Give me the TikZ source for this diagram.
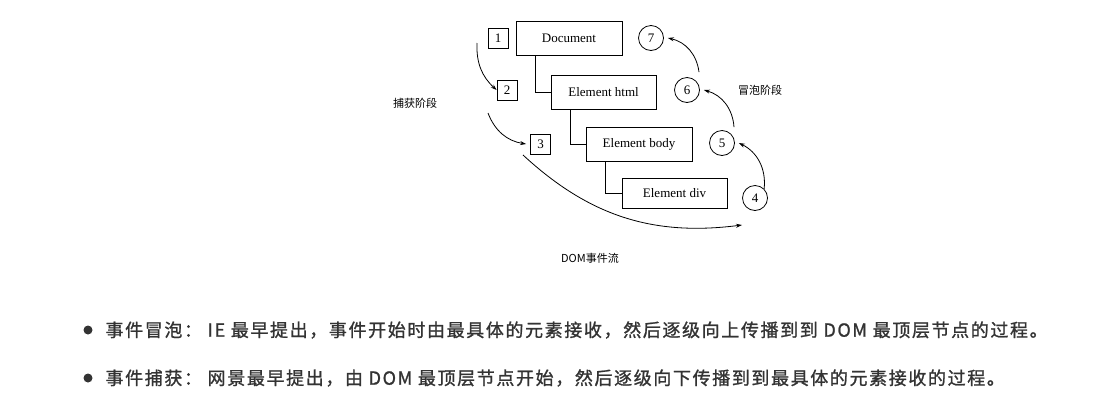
\documentclass[tikz,border=0pt]{standalone}
\usepackage{fontspec}
\setmainfont{Liberation Serif}
\newfontfamily\cjk{Noto Sans CJK SC}
\newfontfamily\cjkwide[LetterSpace=9,FakeBold=1.2]{Noto Sans CJK SC}
\usetikzlibrary{arrows.meta}
\definecolor{txtgray}{HTML}{333333}
\tikzset{
  elembox/.style={draw, thick, minimum height=34pt, font=\fontsize{13}{15}\selectfont},
  stepbox/.style={draw, thick, minimum size=20pt, inner sep=0pt, font=\fontsize{13}{15}\selectfont},
  stepcirc/.style={draw, thick, circle, minimum size=25pt, inner sep=0pt, font=\fontsize{13}{15}\selectfont},
  flow/.style={thick, -{Stealth[length=6pt,width=4pt]}},
  phase/.style={font=\cjk\fontsize{11}{13}\selectfont},
  bullet/.style={anchor=west, text=txtgray, font=\cjkwide\fontsize{18}{20}\selectfont}
}
\begin{document}
\begin{tikzpicture}[x=1pt,y=-1pt]
\useasboundingbox (0,0) rectangle (1107,416);
% element tree
\node[elembox, minimum width=106pt] (doc) at (569,38) {Document};
\node[elembox, minimum width=105pt] (html) at (603.5,92) {Element html};
\node[elembox, minimum width=106pt] (body) at (639,144) {Element body};
\node[elembox, minimum width=105pt, minimum height=30pt] (div) at (674.5,193) {Element div};
\draw[thick] (535,56) |- (html.west);
\draw[thick] (570,109) |- (body.west);
\draw[thick] (605,161) |- (div.west);
% capture steps
\node[stepbox] (s1) at (498,38) {1};
\node[stepbox] (s2) at (507,90) {2};
\node[stepbox] (s3) at (540.5,144) {3};
% bubble steps
\node[stepcirc] (c7) at (651,38) {7};
\node[stepcirc] (c6) at (687,90) {6};
\node[stepcirc] (c5) at (722,143) {5};
\node[stepcirc] (c4) at (755,198) {4};
\coordinate (cap1) at (477,43);
\coordinate (cap2) at (488,113);
\coordinate (cap3) at (523,155);
\coordinate (capend) at (742,225);
\draw[flow] (cap1) to[bend right=25] (s2.west);
\draw[flow] (cap2) to[bend right=30] ([xshift=-4pt]s3.west);
\draw[flow] (cap3) to[bend right=25] (capend);
\draw[flow] (c4.north east) to[bend right=35] ([xshift=4pt]c5.east);
\draw[flow] (c5.north) ++(12,-3) to[bend right=35] ([xshift=4pt]c6.east);
\draw[flow] (c6.north) ++(12,-5) to[bend right=35] ([xshift=4pt]c7.east);
% labels
\node[phase] (caplbl) at (415,103) {捕获阶段};
\node[phase] (bublbl) at (760,90) {冒泡阶段};
\node[phase] (title) at (590,258) {DOM事件流};
% notes
\fill[txtgray] (88,330) circle (4.5);
\node[bullet] (b1) at (102,330) {事件冒泡： IE 最早提出，事件开始时由最具体的元素接收，然后逐级向上传播到到 DOM 最顶层节点的过程。};
\fill[txtgray] (88,378) circle (4.5);
\node[bullet] (b2) at (102,378) {事件捕获： 网景最早提出，由 DOM 最顶层节点开始，然后逐级向下传播到到最具体的元素接收的过程。};
\end{tikzpicture}
\end{document}
